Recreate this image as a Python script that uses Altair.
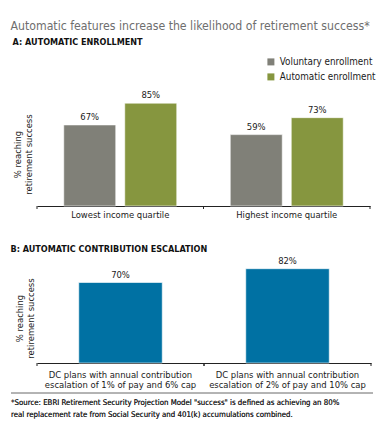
import altair as alt
import pandas as pd

title_text = "Automatic features increase the likelihood of retirement success*"
panel_a_title = "A: AUTOMATIC ENROLLMENT"
panel_b_title = "B: AUTOMATIC CONTRIBUTION ESCALATION"
quartiles = ["Lowest income quartile", "Highest income quartile"]
series = ["Voluntary enrollment", "Automatic enrollment"]
voluntary = [67, 59]
automatic = [85, 73]
plans = [
    "DC plans with annual contribution|escalation of 1% of pay and 6% cap",
    "DC plans with annual contribution|escalation of 2% of pay and 10% cap",
]
escalation = [70, 82]
y_title = ["% reaching", "retirement success"]
footnote = [
    '*Source: EBRI Retirement Security Projection Model "success" is defined as achieving an 80%',
    "real replacement rate from Social Security and 401(k) accumulations combined.",
]

GRAY = "#808078"
GREEN = "#86963f"
BLUE = "#0071a3"
FONT = "DejaVu Sans Condensed"
TXT = "#1a1a1a"
FS = 9.4

rows = []
for i, q in enumerate(quartiles):
    rows.append({"quartile": q, "series": series[0], "value": voluntary[i]})
    rows.append({"quartile": q, "series": series[1], "value": automatic[i]})
dfA = pd.DataFrame(rows)
dfQ = pd.DataFrame({"quartile": quartiles})
dfB = pd.DataFrame({"plan": plans, "value": escalation})
dfP = pd.DataFrame({"plan": plans})

# ---------- Panel A ----------
xA = alt.X("quartile:N", sort=quartiles,
           scale=alt.Scale(paddingInner=0, paddingOuter=0),
           axis=alt.Axis(title=None, labelAngle=0, ticks=False, grid=False,
                         domainColor="#222", labelFontSize=FS, labelFont=FONT,
                         labelColor=TXT, labelPadding=4))
yA = alt.Y("value:Q", scale=alt.Scale(domain=[0, 100]),
           axis=alt.Axis(title=y_title, labels=False, ticks=False, domain=False,
                         grid=False, titleFontSize=FS, titleFont=FONT,
                         titleFontWeight="normal", titleColor=TXT, titlePadding=3,
                         titleY=69))
barsA = alt.Chart(dfA).mark_bar(stroke="white", strokeWidth=0.6).encode(
    x=xA,
    xOffset=alt.XOffset("series:N", sort=series,
                        scale=alt.Scale(paddingInner=0.1475, paddingOuter=0.4385)),
    y=yA,
    color=alt.Color("series:N", sort=series,
                    scale=alt.Scale(domain=series, range=[GRAY, GREEN]),
                    legend=alt.Legend(title=None, orient="none", legendX=229, legendY=-28,
                                      symbolType="square", symbolSize=49,
                                      symbolStrokeWidth=0, labelFontSize=9.8,
                                      labelFont=FONT, labelColor=TXT, rowPadding=4,
                                      labelOffset=4)),
)
textA = alt.Chart(dfA).transform_calculate(
    label="datum.value + '%'"
).mark_text(baseline="bottom", dy=-3, fontSize=FS, font=FONT, color=TXT).encode(
    x=alt.X("quartile:N", sort=quartiles),
    xOffset=alt.XOffset("series:N", sort=series),
    y=alt.Y("value:Q"),
    text="label:N",
)
ticksA0 = alt.Chart(dfQ).mark_rule(color="#222").encode(
    x=alt.X("quartile:N", sort=quartiles, bandPosition=0),
    y=alt.value(121), y2=alt.value(124))
ticksA1 = alt.Chart(dfQ).mark_rule(color="#222").encode(
    x=alt.X("quartile:N", sort=quartiles, bandPosition=1),
    y=alt.value(121), y2=alt.value(124))

panelA = alt.layer(barsA, textA, ticksA0, ticksA1).properties(
    width=333, height=121,
    title=alt.Title(panel_a_title, anchor="start", frame="bounds", fontSize=9,
                    fontWeight="bold", font=FONT, color="#111", offset=38),
)

# ---------- Panel B ----------
xB = alt.X("plan:N", sort=plans,
           scale=alt.Scale(paddingInner=0, paddingOuter=0),
           axis=alt.Axis(title=None, labelAngle=0, ticks=False, grid=False,
                         domainColor="#222", labelFontSize=FS, labelFont=FONT,
                         labelColor=TXT, labelPadding=7, labelLineHeight=10,
                         labelExpr="split(datum.label, '|')"))
yB = alt.Y("value:Q", scale=alt.Scale(domain=[0, 100]),
           axis=alt.Axis(title=y_title, labels=False, ticks=False, domain=False,
                         grid=False, titleFontSize=FS, titleFont=FONT,
                         titleFontWeight="normal", titleColor=TXT, titlePadding=1,
                         titleY=70))
barsB = alt.Chart(dfB).mark_bar(color=BLUE, stroke="white", strokeWidth=0.6,
                                width=alt.RelativeBandSize(0.5)).encode(x=xB, y=yB)
textB = alt.Chart(dfB).transform_calculate(
    label="datum.value + '%'"
).mark_text(baseline="bottom", dy=-3, fontSize=FS, font=FONT, color=TXT).encode(
    x=alt.X("plan:N", sort=plans), y=alt.Y("value:Q"), text="label:N")
ticksB0 = alt.Chart(dfP).mark_rule(color="#222").encode(
    x=alt.X("plan:N", sort=plans, bandPosition=0),
    y=alt.value(115), y2=alt.value(118))
ticksB1 = alt.Chart(dfP).mark_rule(color="#222").encode(
    x=alt.X("plan:N", sort=plans, bandPosition=1),
    y=alt.value(115), y2=alt.value(118))

# footnote (separator rule + two-line source text) below panel B
footRule = alt.Chart(dfP).mark_rule(color="#9a9a9a").encode(
    x=alt.value(-26), x2=alt.value(336), y=alt.value(145))
footText = alt.Chart(dfP).mark_text(
    text=footnote, align="left", baseline="top", fontSize=7.8, font=FONT,
    color="#2a2a2a", lineHeight=11.5,
).encode(x=alt.value(-26), y=alt.value(151))

panelB = alt.layer(barsB, textB, ticksB0, ticksB1, footRule, footText).properties(
    width=334, height=115,
    title=alt.Title(panel_b_title, anchor="start", frame="bounds", fontSize=9,
                    fontWeight="bold", font=FONT, color="#111", offset=-5.5),
)

chart = alt.vconcat(panelA, panelB, spacing=25).properties(
    title=alt.Title(title_text, anchor="start", fontSize=12.2, font=FONT,
                    fontWeight="normal", color="#6e6e6e", offset=6),
    padding={"left": 2, "top": 11, "right": 0, "bottom": 0},
).configure_view(stroke=None)

chart.save("out.html", embed_options={"renderer": "svg", "actions": False})
